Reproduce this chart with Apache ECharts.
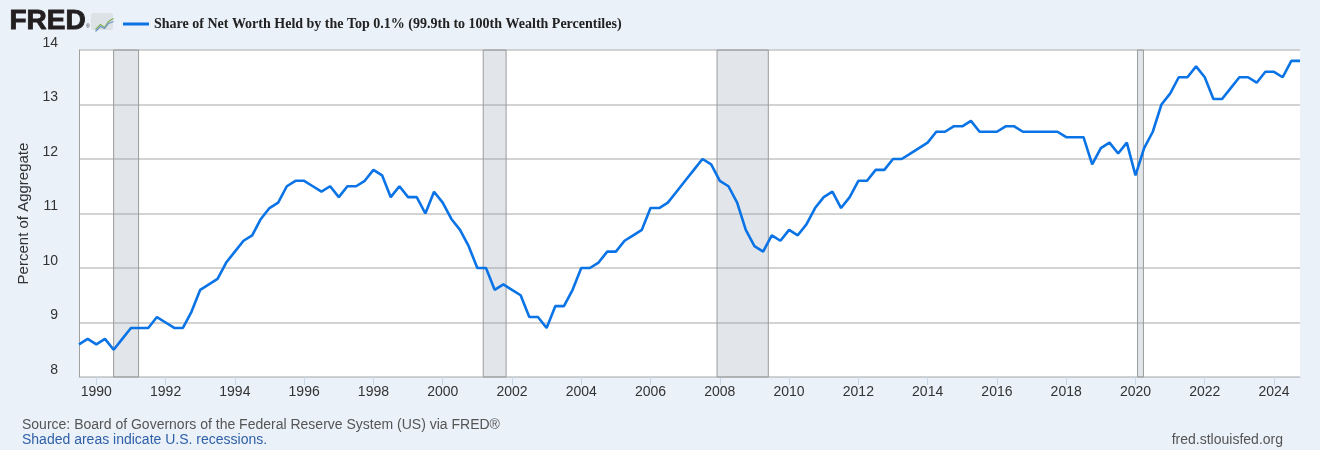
<!DOCTYPE html>
<html>
<head>
<meta charset="utf-8">
<script src="https://cdn.jsdelivr.net/npm/echarts@6/dist/echarts.min.js"></script>
<style>
  html, body { margin: 0; padding: 0; background: #eaf1f9; }
  #chart { width: 1320px; height: 450px; }
</style>
</head>
<body>
<div id="chart"></div>
<script>
// quarterly share of net worth, top 0.1%, first quarter 1989 Q3
var firstQuarter = 1989.5;
var shareTop01 = [
  8.6, 8.7, 8.6, 8.7, 8.5, 8.7, 8.9, 8.9, 8.9, 9.1,
  9.0, 8.9, 8.9, 9.2, 9.6, 9.7, 9.8, 10.1, 10.3, 10.5,
  10.6, 10.9, 11.1, 11.2, 11.5, 11.6, 11.6, 11.5, 11.4, 11.5,
  11.3, 11.5, 11.5, 11.6, 11.8, 11.7, 11.3, 11.5, 11.3, 11.3,
  11.0, 11.4, 11.2, 10.9, 10.7, 10.4, 10.0, 10.0, 9.6, 9.7,
  9.6, 9.5, 9.1, 9.1, 8.9, 9.3, 9.3, 9.6, 10.0, 10.0,
  10.1, 10.3, 10.3, 10.5, 10.6, 10.7, 11.1, 11.1, 11.2, 11.4,
  11.6, 11.8, 12.0, 11.9, 11.6, 11.5, 11.2, 10.7, 10.4, 10.3,
  10.6, 10.5, 10.7, 10.6, 10.8, 11.1, 11.3, 11.4, 11.1, 11.3,
  11.6, 11.6, 11.8, 11.8, 12.0, 12.0, 12.1, 12.2, 12.3, 12.5,
  12.5, 12.6, 12.6, 12.7, 12.5, 12.5, 12.5, 12.6, 12.6, 12.5,
  12.5, 12.5, 12.5, 12.5, 12.4, 12.4, 12.4, 11.9, 12.2, 12.3,
  12.1, 12.3, 11.7, 12.2, 12.5, 13.0, 13.2, 13.5, 13.5, 13.7,
  13.5, 13.1, 13.1, 13.3, 13.5, 13.5, 13.4, 13.6, 13.6, 13.5,
  13.8, 13.8
];
var yearTicks = [1990, 1992, 1994, 1996, 1998, 2000, 2002, 2004, 2006, 2008,
  2010, 2012, 2014, 2016, 2018, 2020, 2022, 2024];
var recessionStart = [1990.5, 2001.17, 2007.92, 2020.06];
var recessionEnd = [1991.22, 2001.83, 2009.4, 2020.23];

var seriesName = 'Share of Net Worth Held by the Top 0.1% (99.9th to 100th Wealth Percentiles)';

var points = [];
for (var i = 0; i < shareTop01.length; ++i) {
  points.push([firstQuarter + i / 4, shareTop01[i]]);
}
var bands = [];
for (var k = 0; k < recessionStart.length; ++k) {
  bands.push([{xAxis: recessionStart[k]}, {xAxis: recessionEnd[k]}]);
}

var chart = echarts.init(document.getElementById('chart'));
var sans = "'Liberation Sans', Arial, sans-serif";

var option = {
  backgroundColor: '#eaf1f9',
  animation: false,
  textStyle: {fontFamily: sans},
  grid: {left: 79, right: 20, top: 50, bottom: 73, show: true,
         backgroundColor: '#fff', borderWidth: 0},
  legend: {
    left: 118, top: 12,
    icon: 'rect', itemWidth: 26, itemHeight: 3, itemGap: 5,
    textStyle: {fontFamily: "'Liberation Serif', 'Times New Roman', serif",
                fontWeight: 'bold', fontSize: 14, color: '#222'},
    data: [seriesName]
  },
  xAxis: {
    type: 'value',
    min: firstQuarter,
    max: firstQuarter + (shareTop01.length - 1) / 4,
    axisLine: {show: true, lineStyle: {color: '#c3ccd6', width: 1}},
    axisTick: {show: true, customValues: yearTicks, length: 8,
               lineStyle: {color: '#c8d6e5'}},
    axisLabel: {customValues: yearTicks, margin: 8, fontSize: 14, color: '#333',
                formatter: function (v) { return String(v); }},
    splitLine: {show: false}
  },
  yAxis: {
    type: 'value',
    min: 8, max: 14, interval: 1,
    name: 'Percent of Aggregate',
    nameLocation: 'middle',
    nameGap: 48,
    nameTextStyle: {fontSize: 15, color: '#333'},
    axisLine: {show: true, lineStyle: {color: '#a0a0a0'}},
    axisTick: {show: false},
    axisLabel: {fontSize: 14, color: '#333', margin: 21, verticalAlign: 'bottom'},
    splitLine: {lineStyle: {color: '#c4c4c4', width: 1.5}}
  },
  graphic: [
    {type: 'text', left: 9, top: 7,
     style: {text: 'FRED', font: "bold 28px 'Liberation Sans', Arial", fill: '#231f20',
             stroke: '#231f20', lineWidth: 0.9}},
    {type: 'text', left: 86, top: 24,
     style: {text: '®', font: "5px 'Liberation Sans'", fill: '#231f20'}},
    {type: 'rect', left: 91, top: 13, shape: {width: 22, height: 17, r: 2},
     style: {fill: '#dde2e7'}},
    {type: 'polyline', left: 93, top: 16,
     shape: {points: [[0, 11], [5, 6], [9, 9], [13, 3], [18, 0]]},
     style: {stroke: '#7fae5a', lineWidth: 1.2, fill: null}},
    {type: 'polyline', left: 93, top: 19,
     shape: {points: [[0, 10], [5, 5], [9, 7], [13, 2], [18, 0]]},
     style: {stroke: '#6f93c4', lineWidth: 1.2, fill: null}},
    {type: 'text', left: 22, top: 418,
     style: {text: 'Source: Board of Governors of the Federal Reserve System (US) via FRED®',
             font: "14px 'Liberation Sans', Arial", fill: '#555'}},
    {type: 'text', left: 22, top: 433,
     style: {text: 'Shaded areas indicate U.S. recessions.',
             font: "14px 'Liberation Sans', Arial", fill: '#2f5fa7'}},
    {type: 'text', right: 37, top: 433,
     style: {text: 'fred.stlouisfed.org',
             font: "14px 'Liberation Sans', Arial", fill: '#555'}}
  ],
  series: [
    {
      name: seriesName,
      type: 'line',
      data: points,
      showSymbol: false,
      symbol: 'none',
      color: '#0a73e6',
      lineStyle: {width: 2.6, color: '#0a73e6'},
      markArea: {
        silent: true,
        itemStyle: {color: 'rgba(150,165,180,0.28)', borderColor: '#9a9a9a', borderWidth: 1},
        data: bands
      }
    }
  ]
};
chart.setOption(option);
</script>
</body>
</html>
